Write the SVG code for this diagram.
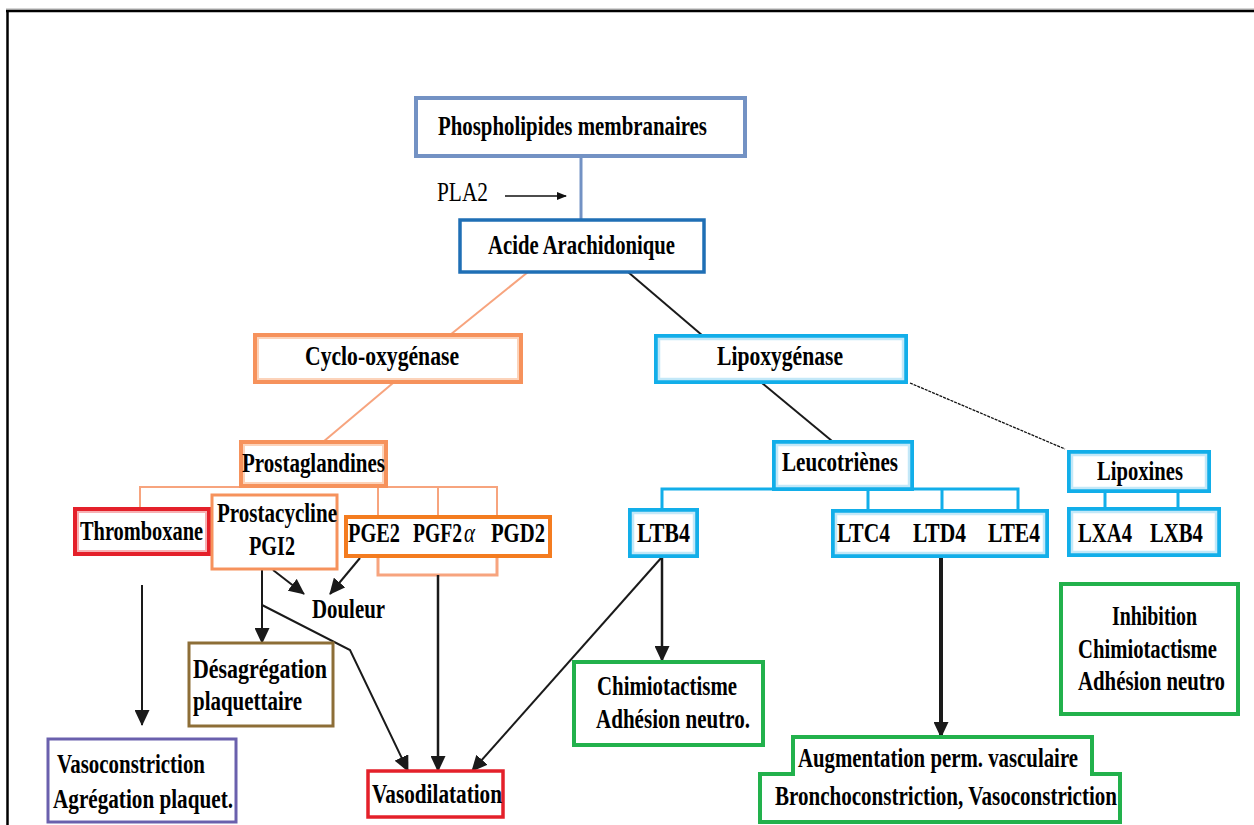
<svg xmlns="http://www.w3.org/2000/svg" width="1254" height="825" viewBox="0 0 1254 825">
<defs>
<marker id="ah" markerUnits="userSpaceOnUse" markerWidth="16" markerHeight="15" viewBox="0 0 16 15" refX="15" refY="7.5" orient="auto">
<path d="M0,0 L16,7.5 L0,15 Z" fill="#1a1a1a"/>
</marker>
<marker id="ahs" markerUnits="userSpaceOnUse" markerWidth="10" markerHeight="8" viewBox="0 0 10 8" refX="9" refY="4" orient="auto">
<path d="M0,0 L10,4 L0,8 Z" fill="#111"/>
</marker>
<style>
.t{font-family:"Liberation Serif","Times New Roman",serif;font-weight:bold;font-size:27px;fill:#000}
.n{font-family:"Liberation Serif","Times New Roman",serif;font-weight:normal;font-size:27px;fill:#000}
.or{stroke:#f6925c;stroke-width:4;fill:#fff}
.orin{stroke:#fcd3ba;stroke-width:2;fill:none}
.bl{stroke:#12aee9;stroke-width:4;fill:#fff}
.blin{stroke:#c3e8f8;stroke-width:2.5;fill:none}
.rd{stroke:#e4202a;stroke-width:4;fill:#fff}
.rdin{stroke:#f7b0b3;stroke-width:2;fill:none}
.gr{stroke:#22b14c;stroke-width:4;fill:#fff}
.sal{stroke:#f7a47e;stroke-width:2;fill:none}
.blk{stroke:#1a1a1a;stroke-width:2;fill:none}
.bb{stroke:#12aee9;stroke-width:3;fill:none}
</style>
</defs>
<rect x="0" y="0" width="1254" height="825" fill="#fff"/>
<g id="frame">
<line x1="6" y1="9" x2="1254" y2="9" stroke="#aaa" stroke-width="1"/>
<line x1="6" y1="11" x2="1254" y2="11" stroke="#000" stroke-width="2.5"/>
<line x1="7.5" y1="10" x2="7.5" y2="825" stroke="#000" stroke-width="2.5"/>
</g>
<g id="connectors">
<line x1="581" y1="157" x2="581" y2="220" stroke="#7392c4" stroke-width="3"/>
<line x1="505" y1="196" x2="566" y2="196" stroke="#111" stroke-width="1.5" marker-end="url(#ahs)"/>
<line x1="528" y1="272" x2="450" y2="335" class="sal"/>
<line x1="628" y1="272" x2="703" y2="336" class="blk"/>
<line x1="393" y1="383" x2="323" y2="442" class="sal"/>
<line x1="762" y1="383" x2="832" y2="441" class="blk"/>
<line x1="910" y1="383" x2="1065" y2="449" stroke="#111" stroke-width="1.3" stroke-dasharray="3 1"/>
<path d="M140,508 V487 H497 V516 M378,487 V516 M438,487 V516" class="sal"/>
<path d="M378,556 V575 H497 V556" stroke="#f7a47e" stroke-width="3" fill="none"/>
<path d="M662,510 V489 H1018 V511 M868,489 V511 M942,489 V511" class="bb"/>
<path d="M1105,491 V509 M1178,491 V509" stroke="#12aee9" stroke-width="3" fill="none"/>
<line x1="142" y1="585" x2="142" y2="725" class="blk" marker-end="url(#ah)"/>
<line x1="262" y1="569" x2="262" y2="643" class="blk" marker-end="url(#ah)"/>
<line x1="273" y1="570" x2="304" y2="594" class="blk" marker-end="url(#ah)"/>
<line x1="360" y1="558" x2="330" y2="594" class="blk" marker-end="url(#ah)"/>
<path d="M262,605 L350,650 L408,771" class="blk" marker-end="url(#ah)"/>
<line x1="438" y1="575" x2="438" y2="771" stroke="#1a1a1a" stroke-width="2.5" marker-end="url(#ah)"/>
<line x1="662" y1="557" x2="472" y2="771" class="blk" marker-end="url(#ah)"/>
<line x1="662" y1="557" x2="662" y2="661" stroke="#1a1a1a" stroke-width="2.5" marker-end="url(#ah)"/>
<line x1="941" y1="557" x2="941" y2="737" stroke="#1a1a1a" stroke-width="4" marker-end="url(#ah)"/>
</g>
<g id="phospholipides">
<rect x="416" y="98" width="329" height="58" fill="#fff" stroke="#7392c4" stroke-width="4"/>
<text class="t" x="438" y="135" textLength="269" lengthAdjust="spacingAndGlyphs">Phospholipides membranaires</text>
</g>
<g id="pla2">
<text class="n" x="437" y="201" textLength="51" lengthAdjust="spacingAndGlyphs">PLA2</text>
</g>
<g id="acide">
<rect x="460" y="220" width="244" height="52" fill="#fff" stroke="#1f6fb5" stroke-width="3.5"/>
<text class="t" x="488" y="254" textLength="187" lengthAdjust="spacingAndGlyphs">Acide Arachidonique</text>
</g>
<g id="cyclo">
<rect x="255" y="335" width="266" height="47" class="or"/>
<rect x="258" y="338" width="260" height="41" class="orin"/>
<text class="t" x="305" y="365" textLength="154" lengthAdjust="spacingAndGlyphs">Cyclo-oxygénase</text>
</g>
<g id="lipoxygenase">
<rect x="656" y="336" width="250" height="46" class="bl"/>
<rect x="659" y="339" width="244" height="40" class="blin"/>
<text class="t" x="717" y="365" textLength="126" lengthAdjust="spacingAndGlyphs">Lipoxygénase</text>
</g>
<g id="prostaglandines">
<rect x="241" y="442" width="145" height="44" class="or"/>
<rect x="244" y="445" width="139" height="38" class="orin"/>
<text class="t" x="242" y="472" textLength="143" lengthAdjust="spacingAndGlyphs">Prostaglandines</text>
</g>
<g id="leucotrienes">
<rect x="774" y="442" width="138" height="47" class="bl"/>
<rect x="777" y="445" width="132" height="41" class="blin"/>
<text class="t" x="782" y="471" textLength="116" lengthAdjust="spacingAndGlyphs">Leucotriènes</text>
</g>
<g id="lipoxines">
<rect x="1069" y="452" width="140" height="39" class="bl"/>
<rect x="1072" y="455" width="134" height="33" class="blin"/>
<text class="t" x="1097" y="480" textLength="86" lengthAdjust="spacingAndGlyphs">Lipoxines</text>
</g>
<g id="thromboxane">
<rect x="75" y="509" width="134" height="45" class="rd"/>
<rect x="78" y="512" width="128" height="39" class="rdin"/>
<text class="t" x="80" y="540" textLength="123" lengthAdjust="spacingAndGlyphs">Thromboxane</text>
</g>
<g id="prostacycline">
<rect x="212" y="495" width="125" height="74" fill="#fff" stroke="#f6925c" stroke-width="3"/>
<text class="t" transform="scale(0.8,1)" x="271.25" y="522" textLength="150" lengthAdjust="spacingAndGlyphs">Prostacycline</text>
<text class="t" x="249" y="555" textLength="46" lengthAdjust="spacingAndGlyphs">PGI2</text>
</g>
<g id="pge">
<rect x="346" y="517" width="204" height="39" fill="#fff" stroke="#f47c20" stroke-width="4"/>
<text class="t" transform="scale(0.8,1)" x="435" y="542" textLength="65" lengthAdjust="spacingAndGlyphs">PGE2</text>
<text class="t" transform="scale(0.75,1)" x="550.67" y="542" textLength="65.33" lengthAdjust="spacingAndGlyphs">PGF2</text>
<text class="n" x="464" y="542" font-style="italic" textLength="11" lengthAdjust="spacingAndGlyphs">α</text>
<text class="t" transform="scale(0.8,1)" x="613.75" y="542" textLength="67.5" lengthAdjust="spacingAndGlyphs">PGD2</text>
</g>
<g id="ltb4">
<rect x="630" y="510" width="67" height="46" class="bl"/>
<rect x="633" y="513" width="61" height="40" class="blin"/>
<text class="t" x="637" y="542" textLength="53" lengthAdjust="spacingAndGlyphs">LTB4</text>
</g>
<g id="ltc4">
<rect x="833" y="511" width="214" height="45" class="bl"/>
<rect x="836" y="514" width="208" height="39" class="blin"/>
<text class="t" x="837" y="542" textLength="53" lengthAdjust="spacingAndGlyphs">LTC4</text>
<text class="t" x="913" y="542" textLength="53" lengthAdjust="spacingAndGlyphs">LTD4</text>
<text class="t" x="988" y="542" textLength="52" lengthAdjust="spacingAndGlyphs">LTE4</text>
</g>
<g id="lxa4">
<rect x="1069" y="509" width="150" height="46" class="bl"/>
<rect x="1072" y="512" width="144" height="40" class="blin"/>
<text class="t" x="1078" y="542" textLength="54" lengthAdjust="spacingAndGlyphs">LXA4</text>
<text class="t" x="1150" y="542" textLength="53" lengthAdjust="spacingAndGlyphs">LXB4</text>
</g>
<g id="douleur">
<text class="t" x="312" y="618" textLength="73" lengthAdjust="spacingAndGlyphs">Douleur</text>
</g>
<g id="desagregation">
<rect x="189" y="643" width="144" height="83" fill="#fff" stroke="#8d6e37" stroke-width="3"/>
<text class="t" x="193" y="678" textLength="134" lengthAdjust="spacingAndGlyphs">Désagrégation</text>
<text class="t" x="193" y="710" textLength="109" lengthAdjust="spacingAndGlyphs">plaquettaire</text>
</g>
<g id="vasoconstriction">
<rect x="48" y="739" width="188" height="83" fill="#fff" stroke="#6a60ad" stroke-width="3"/>
<text class="t" x="57" y="773" textLength="148" lengthAdjust="spacingAndGlyphs">Vasoconstriction</text>
<text class="t" x="53" y="808" textLength="180" lengthAdjust="spacingAndGlyphs">Agrégation plaquet.</text>
</g>
<g id="vasodilatation">
<rect x="368" y="771" width="135" height="46" fill="#fff" stroke="#e4202a" stroke-width="3.5"/>
<text class="t" x="372" y="803" textLength="130" lengthAdjust="spacingAndGlyphs">Vasodilatation</text>
</g>
<g id="chimiotactisme">
<rect x="574" y="662" width="189" height="83" class="gr"/>
<text class="t" x="597" y="695" textLength="140" lengthAdjust="spacingAndGlyphs">Chimiotactisme</text>
<text class="t" x="596" y="728" textLength="154" lengthAdjust="spacingAndGlyphs">Adhésion neutro.</text>
</g>
<g id="inhibition">
<rect x="1061" y="584" width="177" height="130" class="gr"/>
<text class="t" x="1112" y="625" textLength="85" lengthAdjust="spacingAndGlyphs">Inhibition</text>
<text class="t" transform="scale(0.8,1)" x="1347.5" y="658" textLength="173.75" lengthAdjust="spacingAndGlyphs">Chimiotactisme</text>
<text class="t" transform="scale(0.8,1)" x="1347.5" y="690" textLength="183.75" lengthAdjust="spacingAndGlyphs">Adhésion neutro</text>
</g>
<g id="augmentation">
<path d="M793,737 H1092 V774 H1120 V822 H760 V774 H793 Z" class="gr"/>
<text class="t" x="798" y="767" textLength="280" lengthAdjust="spacingAndGlyphs">Augmentation perm. vasculaire</text>
<text class="t" x="775" y="805" textLength="342" lengthAdjust="spacingAndGlyphs">Bronchoconstriction, Vasoconstriction</text>
</g>
</svg>
